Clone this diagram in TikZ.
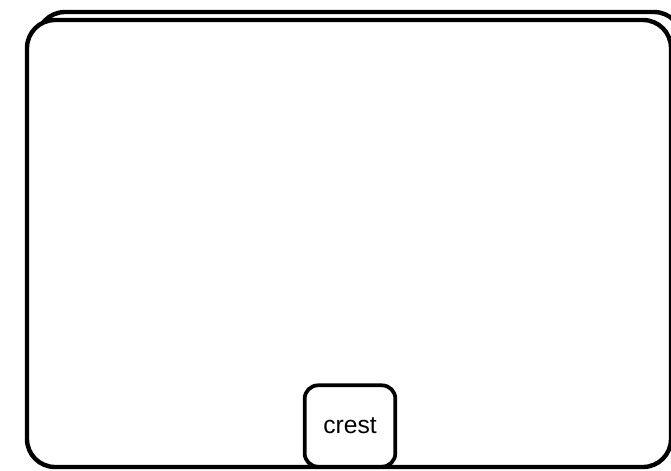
\documentclass[tikz,border=0pt]{standalone}
\usepackage{fontspec}
\setmainfont{Liberation Sans}
\usetikzlibrary{positioning}

\begin{document}
\begin{tikzpicture}[x=0.75pt, y=-0.75pt,
    frame/.style={draw, line width=3.3pt, rounded corners=21pt, fill=white},
    statebox/.style={draw, line width=2.8pt, rounded corners=10pt, fill=white,
        minimum width=68pt, minimum height=61pt, font=\fontsize{18.5}{20}\selectfont}]
        \useasboundingbox (0,0) rectangle (671,471);
        \draw[frame] (37,12) rectangle (682,440);
        \draw[frame] (27,20) rectangle (671,467);
        \node[statebox] (crest) at (350,426) {crest};
    \end{tikzpicture}
\end{document}
